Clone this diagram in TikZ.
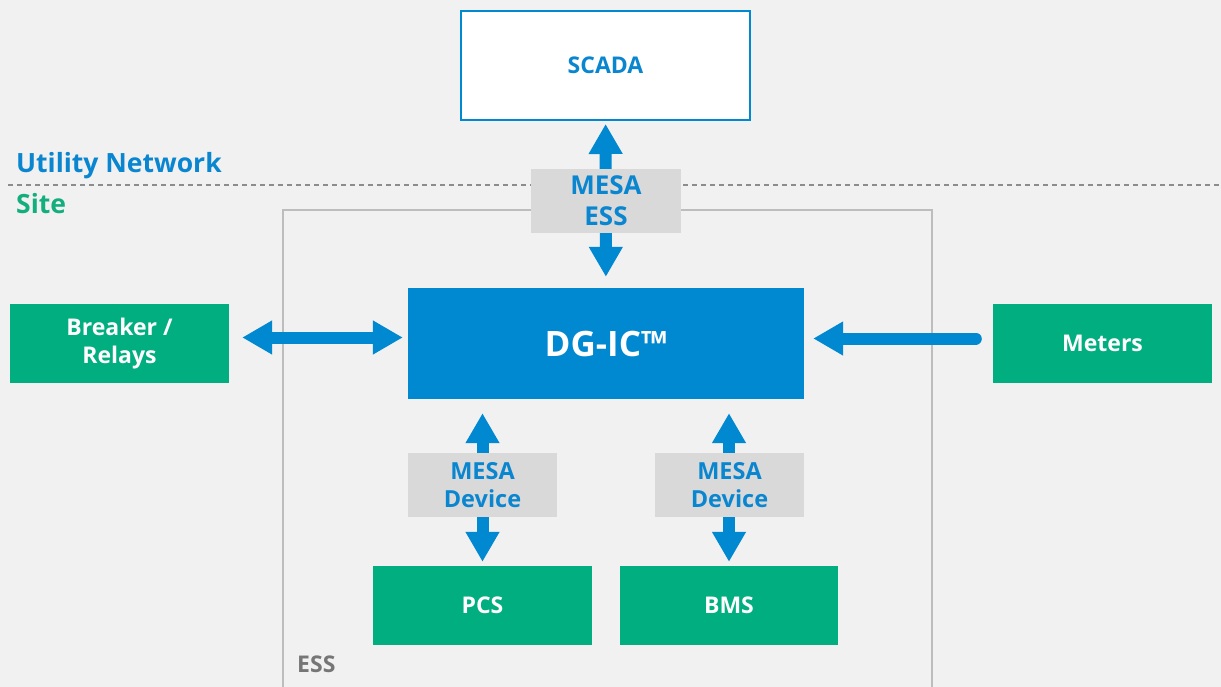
\documentclass[tikz,border=0pt]{standalone}
\usepackage{fontspec}
\setmainfont{Open Sans}
\usetikzlibrary{arrows.meta,positioning}
\definecolor{bgcol}{HTML}{F1F1F1}
\definecolor{dgblue}{HTML}{0088D1}
\definecolor{txtblue}{HTML}{0A86D0}
\definecolor{dggreen}{HTML}{00AE80}
\definecolor{sitegreen}{HTML}{14AE7E}
\definecolor{labelgray}{HTML}{D9D9D9}
\definecolor{framegray}{HTML}{BDBDBD}
\definecolor{dashgray}{HTML}{8C8C8C}
\definecolor{essgray}{HTML}{767676}

\begin{document}
\begin{tikzpicture}[x=1pt,y=-1pt,>={Triangle[width=32pt,length=30pt]},
                    font=\bfseries,inner sep=0pt]
  \tikzstyle{greenbox}=[rectangle,fill=dggreen,text=white,minimum width=219pt,
                        minimum height=79pt,align=center,font=\fontsize{23}{28}\bfseries]
  \tikzstyle{mesabox}=[rectangle,fill=labelgray,text=txtblue,minimum width=149pt,
                       minimum height=64pt,align=center,font=\fontsize{23.5}{28}\bfseries]
  \tikzstyle{bigarrow}=[draw=dgblue,line width=12pt]

  \useasboundingbox (0,0) rectangle (1221,687);
  \fill[bgcol] (0,0) rectangle (1221,687);

  % utility network / site boundary
  \draw[dashgray,line width=2.5pt,dash pattern=on 5pt off 4pt] (8,185) -- (1221,185);
  \node[anchor=base west,text=txtblue,font=\fontsize{26.5}{30}\bfseries] (utility) at (16,173) {Utility Network};
  \node[anchor=base west,text=sitegreen,font=\fontsize{26.5}{30}\bfseries] (site) at (16,214) {Site};

  % ESS frame
  \draw[framegray,line width=1.5pt] (283,687) |- (932,210) -- (932,687);
  \node[anchor=base west,text=essgray,font=\fontsize{23}{26}\bfseries] (ess) at (297,672) {ESS};

  \node[rectangle,draw=dgblue,line width=2pt,fill=white,text=txtblue,minimum width=289pt,
        minimum height=109pt,font=\fontsize{23}{26}\bfseries] (scada) at (605.5,65.5) {SCADA};
  \node[rectangle,fill=dgblue,text=white,minimum width=396pt,minimum height=111pt,
        font=\fontsize{35}{40}\bfseries] (dgic) at (606,343.5) {DG-IC™};
  \node[greenbox] (breaker) at (119.5,343.5) {Breaker /\\Relays};
  \node[greenbox] (meters) at (1102.5,343.5) {Meters};
  \node[greenbox] (pcs) at (482.5,605.5) {PCS};
  \node[greenbox,minimum width=218pt] (bms) at (729,605.5) {BMS};

  \draw[bigarrow,<->,shorten <=3pt,shorten >=11pt] (scada) -- (dgic);
  \draw[bigarrow,<->,shorten <=13pt,shorten >=5pt] ([yshift=6pt]breaker.east) -- ([yshift=6pt]dgic.west);
  \draw[bigarrow,->,line cap=round,shorten <=17pt,shorten >=9pt] ([yshift=5pt]meters.west) -- ([yshift=5pt]dgic.east);
  \draw[bigarrow,<->,shorten <=14pt,shorten >=4pt] (pcs.north |- dgic.south) -- (pcs.north);
  \draw[bigarrow,<->,shorten <=14pt,shorten >=4pt] (bms.north |- dgic.south) -- (bms.north);

  \node[mesabox,minimum width=150pt,font=\fontsize{26}{31}\bfseries] (mesaess) at (606,201) {MESA\\ESS};
  \node[mesabox] (mesapcs) at (482.5,485) {MESA\\Device};
  \node[mesabox] (mesabms) at (729.5,485) {MESA\\Device};
\end{tikzpicture}
\end{document}
